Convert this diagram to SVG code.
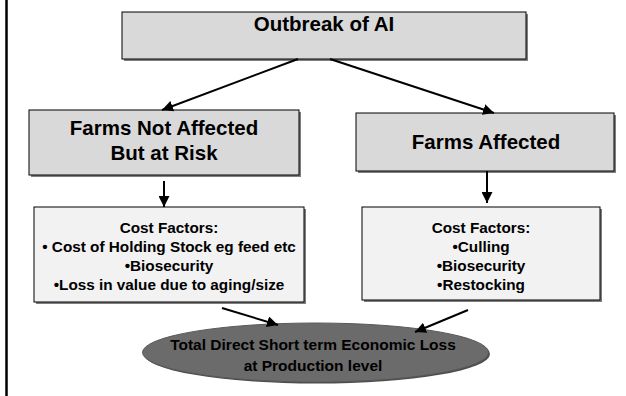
<svg xmlns="http://www.w3.org/2000/svg" width="626" height="396" viewBox="0 0 626 396">
<defs>
<style>
.box{fill:#d9d9d9;stroke:#000;stroke-width:1}
.cbox{fill:#f2f2f2;stroke:#000;stroke-width:1}
.sh{fill:#7f7f7f}
.t{font-family:"Liberation Sans",Arial,sans-serif;font-weight:bold;fill:#000;text-anchor:middle}
.big{font-size:20.5px}
.sm{font-size:15.3px}
.el{font-size:15.5px}
.ln{stroke:#000;stroke-width:2;fill:none}
</style>
<marker id="ah" viewBox="0 0 10 10" refX="10" refY="5" markerWidth="5.5" markerHeight="5.5" orient="auto" markerUnits="strokeWidth">
<path d="M0,0 L10,5 L0,10 z" fill="#000"/>
</marker>
</defs>
<rect width="626" height="396" fill="#fff"/>
<line x1="6.5" y1="0" x2="6.5" y2="396" stroke="#000" stroke-width="2.5"/>
<g id="n-outbreak">
<rect class="sh" x="124" y="14" width="404" height="47"/>
<rect class="box" x="122" y="12" width="404" height="47"/>
<text class="t big" x="324" y="31">Outbreak of AI</text>
</g>
<g id="n-notaffected">
<rect class="sh" x="31" y="112" width="270" height="65"/>
<rect class="box" x="29" y="110" width="270" height="65"/>
<text class="t big" x="164" y="135">Farms Not Affected</text>
<text class="t big" x="164" y="160">But at Risk</text>
</g>
<g id="n-affected">
<rect class="sh" x="358" y="115" width="258" height="58"/>
<rect class="box" x="356" y="113" width="258" height="58"/>
<text class="t big" x="486" y="149">Farms Affected</text>
</g>
<g id="n-cost-left">
<rect class="sh" x="36" y="209" width="270" height="95"/>
<rect class="cbox" x="34" y="207" width="270" height="95"/>
<text class="t sm" x="169" y="233">Cost Factors:</text>
<text class="t sm" x="169" y="252">• Cost of Holding Stock eg feed etc</text>
<text class="t sm" x="169" y="271">•Biosecurity</text>
<text class="t sm" x="169" y="290">•Loss in value due to aging/size</text>
</g>
<g id="n-cost-right">
<rect class="sh" x="364" y="209" width="238" height="93"/>
<rect class="cbox" x="362" y="207" width="238" height="93"/>
<text class="t sm" x="481" y="233">Cost Factors:</text>
<text class="t sm" x="481" y="252">•Culling</text>
<text class="t sm" x="481" y="271">•Biosecurity</text>
<text class="t sm" x="481" y="290">•Restocking</text>
</g>
<g id="n-total">
<ellipse cx="317" cy="354" rx="173" ry="29.5" fill="#4d4d4d"/>
<ellipse cx="315.5" cy="352.5" rx="173" ry="29.5" fill="#6b6b6b" stroke="#595959" stroke-width="1"/>
<text class="t el" x="313" y="350">Total Direct Short term Economic Loss</text>
<text class="t el" x="313" y="371">at Production level</text>
</g>
<g id="connectors">
<line class="ln" x1="298" y1="59" x2="162" y2="110" marker-end="url(#ah)"/>
<line class="ln" x1="330" y1="59" x2="494" y2="113" marker-end="url(#ah)"/>
<line class="ln" x1="164" y1="181" x2="164" y2="207" marker-end="url(#ah)"/>
<line class="ln" x1="487" y1="171" x2="487" y2="203" marker-end="url(#ah)"/>
<line class="ln" x1="222" y1="308" x2="278" y2="325" marker-end="url(#ah)"/>
<line class="ln" x1="468" y1="310" x2="415" y2="332" marker-end="url(#ah)"/>
</g>
</svg>
